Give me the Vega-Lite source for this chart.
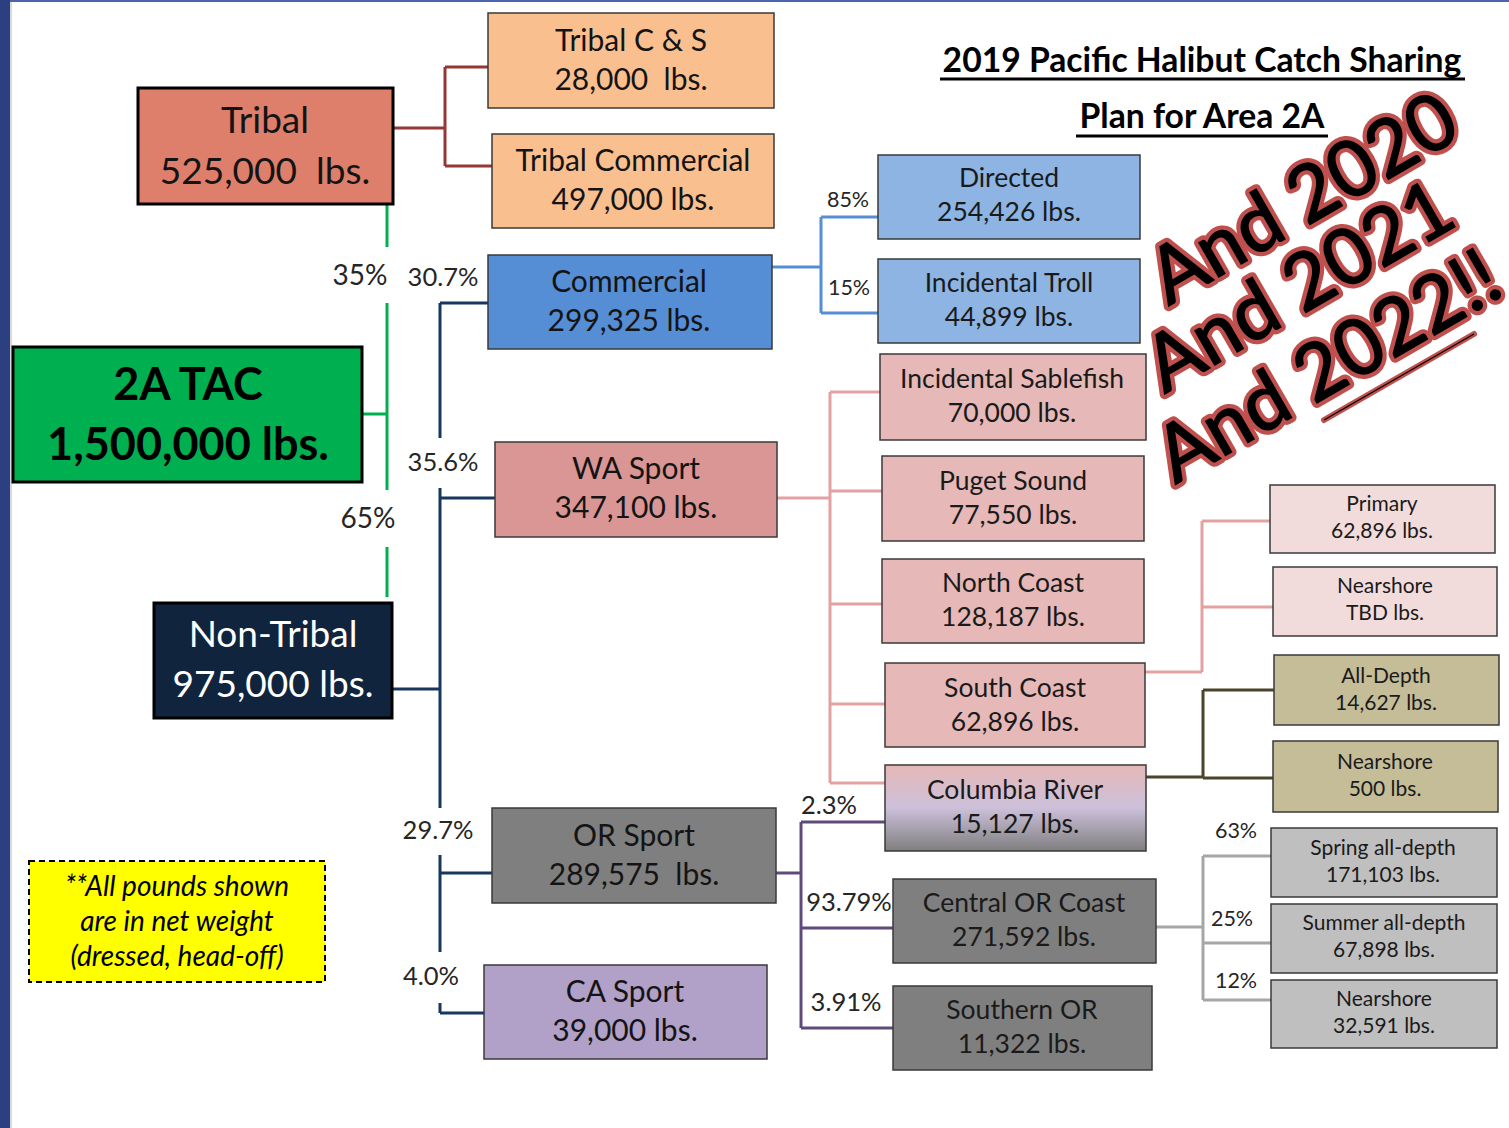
{
  "$schema": "https://vega.github.io/schema/vega-lite/v6.json",
  "width": 1509,
  "height": 1128,
  "autosize": "none",
  "padding": 0,
  "background": "white",
  "config": {"view": {"stroke": null}},
  "datasets": {
    "frame": [
      {"kind": "band", "x": 0, "y": 0, "x2": 10, "y2": 1128},
      {"kind": "edge", "x": 10, "y": 0, "x2": 12, "y2": 1128},
      {"kind": "top", "x": 10, "y": 0, "x2": 1509, "y2": 2}
    ],
    "boxes": [
      {"name": "Tribal", "kind": "tribal", "x": 138, "y": 88, "x2": 393, "y2": 204},
      {"name": "Tribal C & S", "kind": "tribalSub", "x": 488, "y": 13, "x2": 774, "y2": 108},
      {"name": "Tribal Commercial", "kind": "tribalSub", "x": 492, "y": 134, "x2": 774, "y2": 228},
      {"name": "2A TAC", "kind": "tac", "x": 13, "y": 347, "x2": 362, "y2": 482},
      {"name": "Non-Tribal", "kind": "nontribal", "x": 154, "y": 603, "x2": 392, "y2": 718},
      {"name": "Commercial", "kind": "commercial", "x": 488, "y": 255, "x2": 772, "y2": 349},
      {"name": "Directed", "kind": "commSub", "x": 878, "y": 155, "x2": 1140, "y2": 239},
      {"name": "Incidental Troll", "kind": "commSub", "x": 878, "y": 259, "x2": 1140, "y2": 343},
      {"name": "WA Sport", "kind": "wa", "x": 495, "y": 442, "x2": 777, "y2": 537},
      {"name": "Incidental Sablefish", "kind": "waSub", "x": 880, "y": 354, "x2": 1146, "y2": 440},
      {"name": "Puget Sound", "kind": "waSub", "x": 882, "y": 456, "x2": 1144, "y2": 541},
      {"name": "North Coast", "kind": "waSub", "x": 882, "y": 559, "x2": 1144, "y2": 643},
      {"name": "South Coast", "kind": "waSub", "x": 885, "y": 663, "x2": 1145, "y2": 747},
      {"name": "Columbia River", "kind": "columbia", "x": 885, "y": 765, "x2": 1146, "y2": 851},
      {"name": "Primary", "kind": "scSub", "x": 1270, "y": 485, "x2": 1495, "y2": 553},
      {"name": "Nearshore SC", "kind": "scSub", "x": 1273, "y": 567, "x2": 1497, "y2": 636},
      {"name": "All-Depth", "kind": "crSub", "x": 1274, "y": 655, "x2": 1499, "y2": 725},
      {"name": "Nearshore CR", "kind": "crSub", "x": 1273, "y": 741, "x2": 1498, "y2": 812},
      {"name": "Spring all-depth", "kind": "orSub", "x": 1271, "y": 828, "x2": 1497, "y2": 897},
      {"name": "Summer all-depth", "kind": "orSub", "x": 1271, "y": 904, "x2": 1497, "y2": 973},
      {"name": "Nearshore OR", "kind": "orSub", "x": 1271, "y": 980, "x2": 1497, "y2": 1048},
      {"name": "OR Sport", "kind": "or", "x": 492, "y": 808, "x2": 776, "y2": 903},
      {"name": "Central OR Coast", "kind": "or", "x": 893, "y": 879, "x2": 1156, "y2": 963},
      {"name": "Southern OR", "kind": "or", "x": 893, "y": 986, "x2": 1152, "y2": 1070},
      {"name": "CA Sport", "kind": "ca", "x": 484, "y": 965, "x2": 767, "y2": 1059},
      {"name": "Note", "kind": "note", "x": 29, "y": 861, "x2": 325, "y2": 982}
    ],
    "links": [
      {"grp": "tribal", "x": 393, "y": 128, "x2": 445, "y2": 128},
      {"grp": "tribal", "x": 445, "y": 67, "x2": 445, "y2": 166},
      {"grp": "tribal", "x": 445, "y": 67, "x2": 488, "y2": 67},
      {"grp": "tribal", "x": 445, "y": 166, "x2": 492, "y2": 166},
      {"grp": "green", "x": 387, "y": 204, "x2": 387, "y2": 247},
      {"grp": "green", "x": 387, "y": 303, "x2": 387, "y2": 490},
      {"grp": "green", "x": 387, "y": 547, "x2": 387, "y2": 597},
      {"grp": "green", "x": 362, "y": 414, "x2": 387, "y2": 414},
      {"grp": "navy", "x": 392, "y": 689, "x2": 440, "y2": 689},
      {"grp": "navy", "x": 440, "y": 303, "x2": 440, "y2": 438},
      {"grp": "navy", "x": 440, "y": 488, "x2": 440, "y2": 808},
      {"grp": "navy", "x": 440, "y": 855, "x2": 440, "y2": 952},
      {"grp": "navy", "x": 440, "y": 1003, "x2": 440, "y2": 1013},
      {"grp": "navy", "x": 440, "y": 303, "x2": 488, "y2": 303},
      {"grp": "navy", "x": 440, "y": 498, "x2": 495, "y2": 498},
      {"grp": "navy", "x": 440, "y": 873, "x2": 492, "y2": 873},
      {"grp": "navy", "x": 440, "y": 1013, "x2": 484, "y2": 1013},
      {"grp": "comm", "x": 772, "y": 267, "x2": 821, "y2": 267},
      {"grp": "comm", "x": 821, "y": 217, "x2": 821, "y2": 313},
      {"grp": "comm", "x": 821, "y": 217, "x2": 878, "y2": 217},
      {"grp": "comm", "x": 821, "y": 313, "x2": 878, "y2": 313},
      {"grp": "wa", "x": 777, "y": 498, "x2": 830, "y2": 498},
      {"grp": "wa", "x": 830, "y": 392, "x2": 830, "y2": 783},
      {"grp": "wa", "x": 830, "y": 392, "x2": 880, "y2": 392},
      {"grp": "wa", "x": 830, "y": 491, "x2": 882, "y2": 491},
      {"grp": "wa", "x": 830, "y": 604, "x2": 882, "y2": 604},
      {"grp": "wa", "x": 830, "y": 704, "x2": 885, "y2": 704},
      {"grp": "wa", "x": 830, "y": 783, "x2": 885, "y2": 783},
      {"grp": "wa", "x": 1145, "y": 672, "x2": 1202, "y2": 672},
      {"grp": "wa", "x": 1202, "y": 521, "x2": 1202, "y2": 672},
      {"grp": "wa", "x": 1202, "y": 521, "x2": 1270, "y2": 521},
      {"grp": "wa", "x": 1202, "y": 607, "x2": 1273, "y2": 607},
      {"grp": "cr", "x": 1146, "y": 777, "x2": 1203, "y2": 777},
      {"grp": "cr", "x": 1203, "y": 690, "x2": 1203, "y2": 778},
      {"grp": "cr", "x": 1203, "y": 690, "x2": 1274, "y2": 690},
      {"grp": "cr", "x": 1203, "y": 778, "x2": 1273, "y2": 778},
      {"grp": "or", "x": 776, "y": 873, "x2": 801, "y2": 873},
      {"grp": "or", "x": 801, "y": 822, "x2": 801, "y2": 1028},
      {"grp": "or", "x": 801, "y": 822, "x2": 885, "y2": 822},
      {"grp": "or", "x": 801, "y": 928, "x2": 893, "y2": 928},
      {"grp": "or", "x": 801, "y": 1028, "x2": 893, "y2": 1028},
      {"grp": "orc", "x": 1156, "y": 927, "x2": 1203, "y2": 927},
      {"grp": "orc", "x": 1203, "y": 856, "x2": 1203, "y2": 1000},
      {"grp": "orc", "x": 1203, "y": 856, "x2": 1271, "y2": 856},
      {"grp": "orc", "x": 1203, "y": 943, "x2": 1271, "y2": 943},
      {"grp": "orc", "x": 1203, "y": 1000, "x2": 1271, "y2": 1000},
      {"grp": "title", "x": 940, "y": 79, "x2": 1465, "y2": 79},
      {"grp": "title", "x": 1076, "y": 136, "x2": 1328, "y2": 136}
    ],
    "texts": [
      {"t": "Tribal", "role": "big", "x": 265, "y": 122},
      {"t": "525,000\u00a0 lbs.", "role": "big", "x": 265, "y": 173},
      {"t": "Tribal C & S", "role": "mid", "x": 631, "y": 42},
      {"t": "28,000\u00a0 lbs.", "role": "mid", "x": 631, "y": 81},
      {"t": "Tribal Commercial", "role": "mid", "x": 633, "y": 162},
      {"t": "497,000 lbs.", "role": "mid", "x": 633, "y": 201},
      {"t": "Non-Tribal", "role": "bigw", "x": 273, "y": 636},
      {"t": "975,000 lbs.", "role": "bigw", "x": 273, "y": 686},
      {"t": "Commercial", "role": "mid", "x": 629, "y": 283},
      {"t": "299,325 lbs.", "role": "mid", "x": 629, "y": 322},
      {"t": "Directed", "role": "sub", "x": 1009, "y": 179},
      {"t": "254,426 lbs.", "role": "sub", "x": 1009, "y": 213},
      {"t": "Incidental Troll", "role": "sub", "x": 1009, "y": 284},
      {"t": "44,899 lbs.", "role": "sub", "x": 1009, "y": 318},
      {"t": "WA Sport", "role": "mid", "x": 636, "y": 470},
      {"t": "347,100 lbs.", "role": "mid", "x": 636, "y": 509},
      {"t": "Incidental Sablefish", "role": "sub", "x": 1012, "y": 380},
      {"t": "70,000 lbs.", "role": "sub", "x": 1012, "y": 414},
      {"t": "Puget Sound", "role": "sub", "x": 1013, "y": 482},
      {"t": "77,550 lbs.", "role": "sub", "x": 1013, "y": 516},
      {"t": "North Coast", "role": "sub", "x": 1013, "y": 584},
      {"t": "128,187 lbs.", "role": "sub", "x": 1013, "y": 618},
      {"t": "South Coast", "role": "sub", "x": 1015, "y": 689},
      {"t": "62,896 lbs.", "role": "sub", "x": 1015, "y": 723},
      {"t": "Columbia River", "role": "sub", "x": 1015, "y": 791},
      {"t": "15,127 lbs.", "role": "sub", "x": 1015, "y": 825},
      {"t": "Primary", "role": "small", "x": 1382, "y": 505},
      {"t": "62,896 lbs.", "role": "small", "x": 1382, "y": 532},
      {"t": "Nearshore", "role": "small", "x": 1385, "y": 587},
      {"t": "TBD lbs.", "role": "small", "x": 1385, "y": 614},
      {"t": "All-Depth", "role": "small", "x": 1386, "y": 677},
      {"t": "14,627 lbs.", "role": "small", "x": 1386, "y": 704},
      {"t": "Nearshore", "role": "small", "x": 1385, "y": 763},
      {"t": "500 lbs.", "role": "small", "x": 1385, "y": 790},
      {"t": "Spring all-depth", "role": "small", "x": 1383, "y": 849},
      {"t": "171,103 lbs.", "role": "small", "x": 1383, "y": 876},
      {"t": "Summer all-depth", "role": "small", "x": 1384, "y": 924},
      {"t": "67,898 lbs.", "role": "small", "x": 1384, "y": 951},
      {"t": "Nearshore", "role": "small", "x": 1384, "y": 1000},
      {"t": "32,591 lbs.", "role": "small", "x": 1384, "y": 1027},
      {"t": "OR Sport", "role": "mid", "x": 634, "y": 837},
      {"t": "289,575\u00a0 lbs.", "role": "mid", "x": 634, "y": 876},
      {"t": "Central OR Coast", "role": "sub", "x": 1024, "y": 904},
      {"t": "271,592 lbs.", "role": "sub", "x": 1024, "y": 938},
      {"t": "Southern OR", "role": "sub", "x": 1022, "y": 1011},
      {"t": "11,322 lbs.", "role": "sub", "x": 1022, "y": 1045},
      {"t": "CA Sport", "role": "mid", "x": 625, "y": 993},
      {"t": "39,000 lbs.", "role": "mid", "x": 625, "y": 1032},
      {"t": "35%", "role": "pctL", "x": 360, "y": 277},
      {"t": "30.7%", "role": "pct", "x": 443, "y": 278},
      {"t": "65%", "role": "pctL", "x": 368, "y": 520},
      {"t": "35.6%", "role": "pct", "x": 443, "y": 463},
      {"t": "29.7%", "role": "pct", "x": 438, "y": 831},
      {"t": "4.0%", "role": "pct", "x": 431, "y": 977},
      {"t": "85%", "role": "pctS", "x": 848, "y": 201},
      {"t": "15%", "role": "pctS", "x": 849, "y": 289},
      {"t": "2.3%", "role": "pct", "x": 829, "y": 806},
      {"t": "93.79%", "role": "pct", "x": 849, "y": 903},
      {"t": "3.91%", "role": "pct", "x": 846, "y": 1003},
      {"t": "63%", "role": "pctS", "x": 1236, "y": 832},
      {"t": "25%", "role": "pctS", "x": 1232, "y": 920},
      {"t": "12%", "role": "pctS", "x": 1236, "y": 982}
    ],
    "boldTexts": [
      {"t": "2A TAC", "role": "tac", "x": 188, "y": 386},
      {"t": "1,500,000 lbs.", "role": "tac", "x": 188, "y": 446},
      {"t": "2019 Pacific Halibut Catch Sharing", "role": "title", "x": 1202, "y": 62},
      {"t": "Plan for Area 2A", "role": "title", "x": 1202, "y": 118}
    ],
    "noteTexts": [
      {"t": "**All pounds shown", "x": 177, "y": 888},
      {"t": "are in net weight", "x": 177, "y": 923},
      {"t": "(dressed, head-off)", "x": 177, "y": 958}
    ],
    "stamp": [
      {"t": "And 2020", "x": 1316, "y": 221},
      {"t": "And 2021", "x": 1312, "y": 309},
      {"t": "And 2022!!", "x": 1341, "y": 389}
    ],
    "stampLine": [
      {"x": 1324, "y": 420, "x2": 1474, "y2": 334}
    ]
  },
  "encoding": {
    "x": {"field": "x", "type": "quantitative", "scale": {"domain": [0, 1509], "nice": false, "zero": false}, "axis": null},
    "y": {"field": "y", "type": "quantitative", "scale": {"domain": [0, 1128], "nice": false, "zero": false, "reverse": true}, "axis": null}
  },
  "layer": [
    {
      "data": {"name": "frame"},
      "mark": {"type": "rect"},
      "encoding": {
        "x2": {"field": "x2"},
        "y2": {"field": "y2"},
        "fill": {"field": "kind", "type": "nominal", "scale": {"domain": ["band", "edge", "top"], "range": ["#2c3f80", "#d9d9d9", "#4a64ad"]}, "legend": null}
      }
    },
    {
      "data": {"name": "links"},
      "mark": {"type": "rule", "strokeWidth": 3},
      "encoding": {
        "x2": {"field": "x2"},
        "y2": {"field": "y2"},
        "stroke": {"field": "grp", "type": "nominal", "scale": {"domain": ["tribal", "green", "navy", "comm", "wa", "cr", "or", "orc", "title"], "range": ["#953735", "#00b050", "#17375e", "#558ed5", "#e3a2a1", "#4a452a", "#604a7b", "#a6a6a6", "#000000"]}, "legend": null}
      }
    },
    {
      "data": {"name": "boxes"},
      "transform": [{"filter": "datum.kind !== 'columbia' && datum.kind !== 'note'"}],
      "mark": {"type": "rect", "stroke": "#3a3a3a", "strokeWidth": 1.5},
      "encoding": {
        "x2": {"field": "x2"},
        "y2": {"field": "y2"},
        "fill": {"field": "kind", "type": "nominal", "scale": {"domain": ["tribal", "tribalSub", "tac", "nontribal", "commercial", "commSub", "wa", "waSub", "scSub", "crSub", "orSub", "or", "ca"], "range": ["#de7f6c", "#fabf8f", "#00b050", "#10243e", "#558ed5", "#8db4e2", "#da9694", "#e6b8b7", "#f2dcdb", "#c4bd97", "#bfbfbf", "#7f7f7f", "#b1a0c7"]}, "legend": null}
      }
    },
    {
      "data": {"name": "boxes"},
      "transform": [{"filter": "datum.kind === 'tribal' || datum.kind === 'tac' || datum.kind === 'nontribal'"}],
      "mark": {"type": "rect", "filled": false, "stroke": "#000000", "strokeWidth": 3},
      "encoding": {"x2": {"field": "x2"}, "y2": {"field": "y2"}}
    },
    {
      "data": {"name": "boxes"},
      "transform": [{"filter": "datum.kind === 'columbia'"}],
      "mark": {
        "type": "rect",
        "stroke": "#3a3a3a",
        "strokeWidth": 1.5,
        "fill": {
          "gradient": "linear", "x1": 0, "y1": 0, "x2": 0, "y2": 1,
          "stops": [
            {"offset": 0, "color": "#e6b8b7"},
            {"offset": 0.5, "color": "#ccc0da"},
            {"offset": 1, "color": "#7f7f7f"}
          ]
        }
      },
      "encoding": {"x2": {"field": "x2"}, "y2": {"field": "y2"}}
    },
    {
      "data": {"name": "boxes"},
      "transform": [{"filter": "datum.kind === 'note'"}],
      "mark": {"type": "rect", "fill": "#ffff00", "stroke": "#000000", "strokeWidth": 2, "strokeDash": [6, 4]},
      "encoding": {"x2": {"field": "x2"}, "y2": {"field": "y2"}}
    },
    {
      "data": {"name": "texts"},
      "transform": [{"filter": "datum.role === 'big'"}],
      "mark": {"type": "text", "font": "Lato", "fontSize": 37, "align": "center", "baseline": "middle", "fill": "#141414"},
      "encoding": {"text": {"field": "t"}}
    },
    {
      "data": {"name": "texts"},
      "transform": [{"filter": "datum.role === 'bigw'"}],
      "mark": {"type": "text", "font": "Lato", "fontSize": 37, "align": "center", "baseline": "middle", "fill": "#ffffff"},
      "encoding": {"text": {"field": "t"}}
    },
    {
      "data": {"name": "texts"},
      "transform": [{"filter": "datum.role === 'mid'"}],
      "mark": {"type": "text", "font": "Lato", "fontSize": 30, "align": "center", "baseline": "middle", "fill": "#141414"},
      "encoding": {"text": {"field": "t"}}
    },
    {
      "data": {"name": "texts"},
      "transform": [{"filter": "datum.role === 'sub'"}],
      "mark": {"type": "text", "font": "Lato", "fontSize": 26.5, "align": "center", "baseline": "middle", "fill": "#1a1a1a"},
      "encoding": {"text": {"field": "t"}}
    },
    {
      "data": {"name": "texts"},
      "transform": [{"filter": "datum.role === 'small'"}],
      "mark": {"type": "text", "font": "Lato", "fontSize": 21, "align": "center", "baseline": "middle", "fill": "#1a1a1a"},
      "encoding": {"text": {"field": "t"}}
    },
    {
      "data": {"name": "texts"},
      "transform": [{"filter": "datum.role === 'pctL'"}],
      "mark": {"type": "text", "font": "Lato", "fontSize": 28, "align": "center", "baseline": "middle", "fill": "#262626"},
      "encoding": {"text": {"field": "t"}}
    },
    {
      "data": {"name": "texts"},
      "transform": [{"filter": "datum.role === 'pct'"}],
      "mark": {"type": "text", "font": "Lato", "fontSize": 25.5, "align": "center", "baseline": "middle", "fill": "#262626"},
      "encoding": {"text": {"field": "t"}}
    },
    {
      "data": {"name": "texts"},
      "transform": [{"filter": "datum.role === 'pctS'"}],
      "mark": {"type": "text", "font": "Lato", "fontSize": 21.5, "align": "center", "baseline": "middle", "fill": "#262626"},
      "encoding": {"text": {"field": "t"}}
    },
    {
      "data": {"name": "boldTexts"},
      "transform": [{"filter": "datum.role === 'tac'"}],
      "mark": {"type": "text", "font": "Lato", "fontWeight": "bold", "fontSize": 45, "align": "center", "baseline": "middle", "fill": "#000000"},
      "encoding": {"text": {"field": "t"}}
    },
    {
      "data": {"name": "boldTexts"},
      "transform": [{"filter": "datum.role === 'title'"}],
      "mark": {"type": "text", "font": "Lato", "fontWeight": "bold", "fontSize": 33.7, "align": "center", "baseline": "middle", "fill": "#000000"},
      "encoding": {"text": {"field": "t"}}
    },
    {
      "data": {"name": "noteTexts"},
      "mark": {"type": "text", "font": "Lato", "fontStyle": "italic", "fontSize": 28, "align": "center", "baseline": "middle", "fill": "#000000"},
      "encoding": {"text": {"field": "t"}}
    },
    {
      "data": {"name": "stampLine"},
      "mark": {"type": "rule", "stroke": "#c0504d", "strokeWidth": 6, "strokeCap": "round"},
      "encoding": {"x2": {"field": "x2"}, "y2": {"field": "y2"}}
    },
    {
      "data": {"name": "stampLine"},
      "mark": {"type": "rule", "stroke": "#000000", "strokeWidth": 1.2},
      "encoding": {"x2": {"field": "x2"}, "y2": {"field": "y2"}}
    },
    {
      "data": {"name": "stamp"},
      "mark": {"type": "text", "font": "Lato", "fontWeight": "normal", "fontSize": 78, "align": "center", "baseline": "alphabetic", "angle": 330, "fill": "#c0504d", "stroke": "#c0504d", "strokeWidth": 10, "strokeJoin": "round"},
      "encoding": {"text": {"field": "t"}}
    },
    {
      "data": {"name": "stamp"},
      "mark": {"type": "text", "font": "Lato", "fontWeight": "normal", "fontSize": 78, "align": "center", "baseline": "alphabetic", "angle": 330, "fill": "#000000", "stroke": "#000000", "strokeWidth": 1.5},
      "encoding": {"text": {"field": "t"}}
    }
  ],
  "resolve": {"scale": {"fill": "independent", "stroke": "independent"}}
}
